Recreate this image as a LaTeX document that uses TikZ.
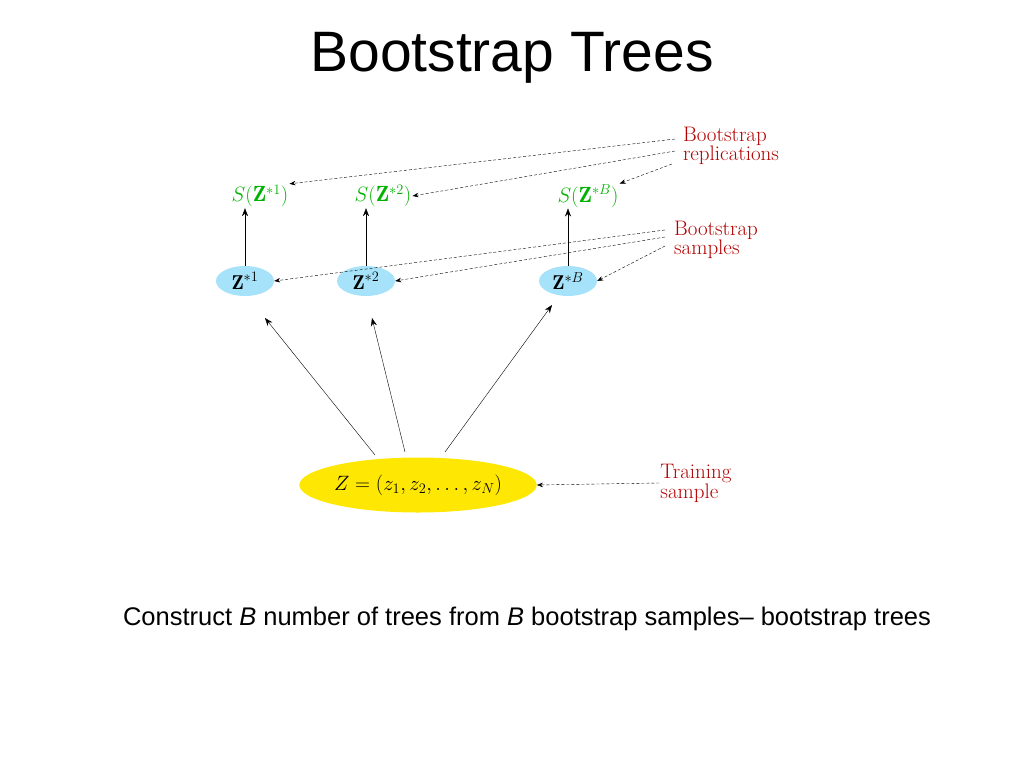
\documentclass[tikz,border=0pt]{standalone}
\usepackage{fontspec}
\setsansfont{Liberation Sans}
\usetikzlibrary{arrows.meta,shapes.geometric}
\begin{document}
\begin{tikzpicture}[x=1pt,y=-1pt,
  lbl/.style={text=red!70!black,font=\fontsize{21}{14}\selectfont,align=left,inner sep=1pt},
  rep/.style={text=green!70!black,font=\fontsize{22}{24}\selectfont,inner sep=1pt},
  samp/.style={ellipse,fill=cyan!35,minimum width=58,minimum height=30,inner sep=0pt,font=\fontsize{20}{22}\selectfont},
  da/.style={densely dashed,-{Stealth[length=6pt]},thin},
  sa/.style={-{Stealth[length=8pt]},thin}]
\useasboundingbox (0,0) rectangle (1024,768);
\node[font=\sffamily\fontsize{57}{66}\selectfont] (title) at (512,58) {Bootstrap Trees};
\node[rep] (s1) at (260,196) {$S(\mathbf{Z}^{*1})$};
\node[rep] (s2) at (383,196) {$S(\mathbf{Z}^{*2})$};
\node[rep] (sB) at (588,196) {$S(\mathbf{Z}^{*B})$};
\node[samp] (z1) at (245,281) {$\mathbf{Z}^{*1}$};
\node[samp] (z2) at (366,281) {$\mathbf{Z}^{*2}$};
\node[samp] (zB) at (568,281) {$\mathbf{Z}^{*B}$};
\node[ellipse,fill=yellow!90!orange,minimum width=225,minimum height=55,inner sep=0pt,font=\fontsize{22}{24}\selectfont] (z) at (418,485) {$Z=(z_1,z_2,\ldots,z_N)$};
\node[lbl] (lr) at (731,146) {Bootstrap\\replications};
\node[lbl] (ls) at (716,240) {Bootstrap\\samples};
\node[lbl] (lt) at (696,483) {Training\\sample};
\coordinate (r1) at (675,139); \coordinate (r2) at (675,151); \coordinate (r3) at (672,164);
\draw[da] (r1) -- (s1.north east);
\draw[da] (r2) -- (s2.east);
\draw[da] (r3) -- (sB.north east);
\coordinate (q1) at (665,230); \coordinate (q2) at (665,237); \coordinate (q3) at (665,246);
\draw[da] (q1) -- (z1.east);
\draw[da] (q2) -- (z2.east);
\draw[da] (q3) -- (zB.east);
\draw[da] (lt.west) -- (z.east);
\draw[sa] (z1.north) -- (s1.south -| z1.north);
\draw[sa] (z2.north) -- (s2.south -| z2.north);
\draw[sa] (zB.north) -- (sB.south -| zB.north);
\draw[sa] (375,455) -- (265,318);
\draw[sa] (405,452) -- (372,318);
\draw[sa] (445,452) -- (552,305);
\node[font=\sffamily\fontsize{25.5}{30}\selectfont] (cap) at (527,619) {Construct \textit{B} number of trees from \textit{B} bootstrap samples-- bootstrap trees};
\end{tikzpicture}
\end{document}
